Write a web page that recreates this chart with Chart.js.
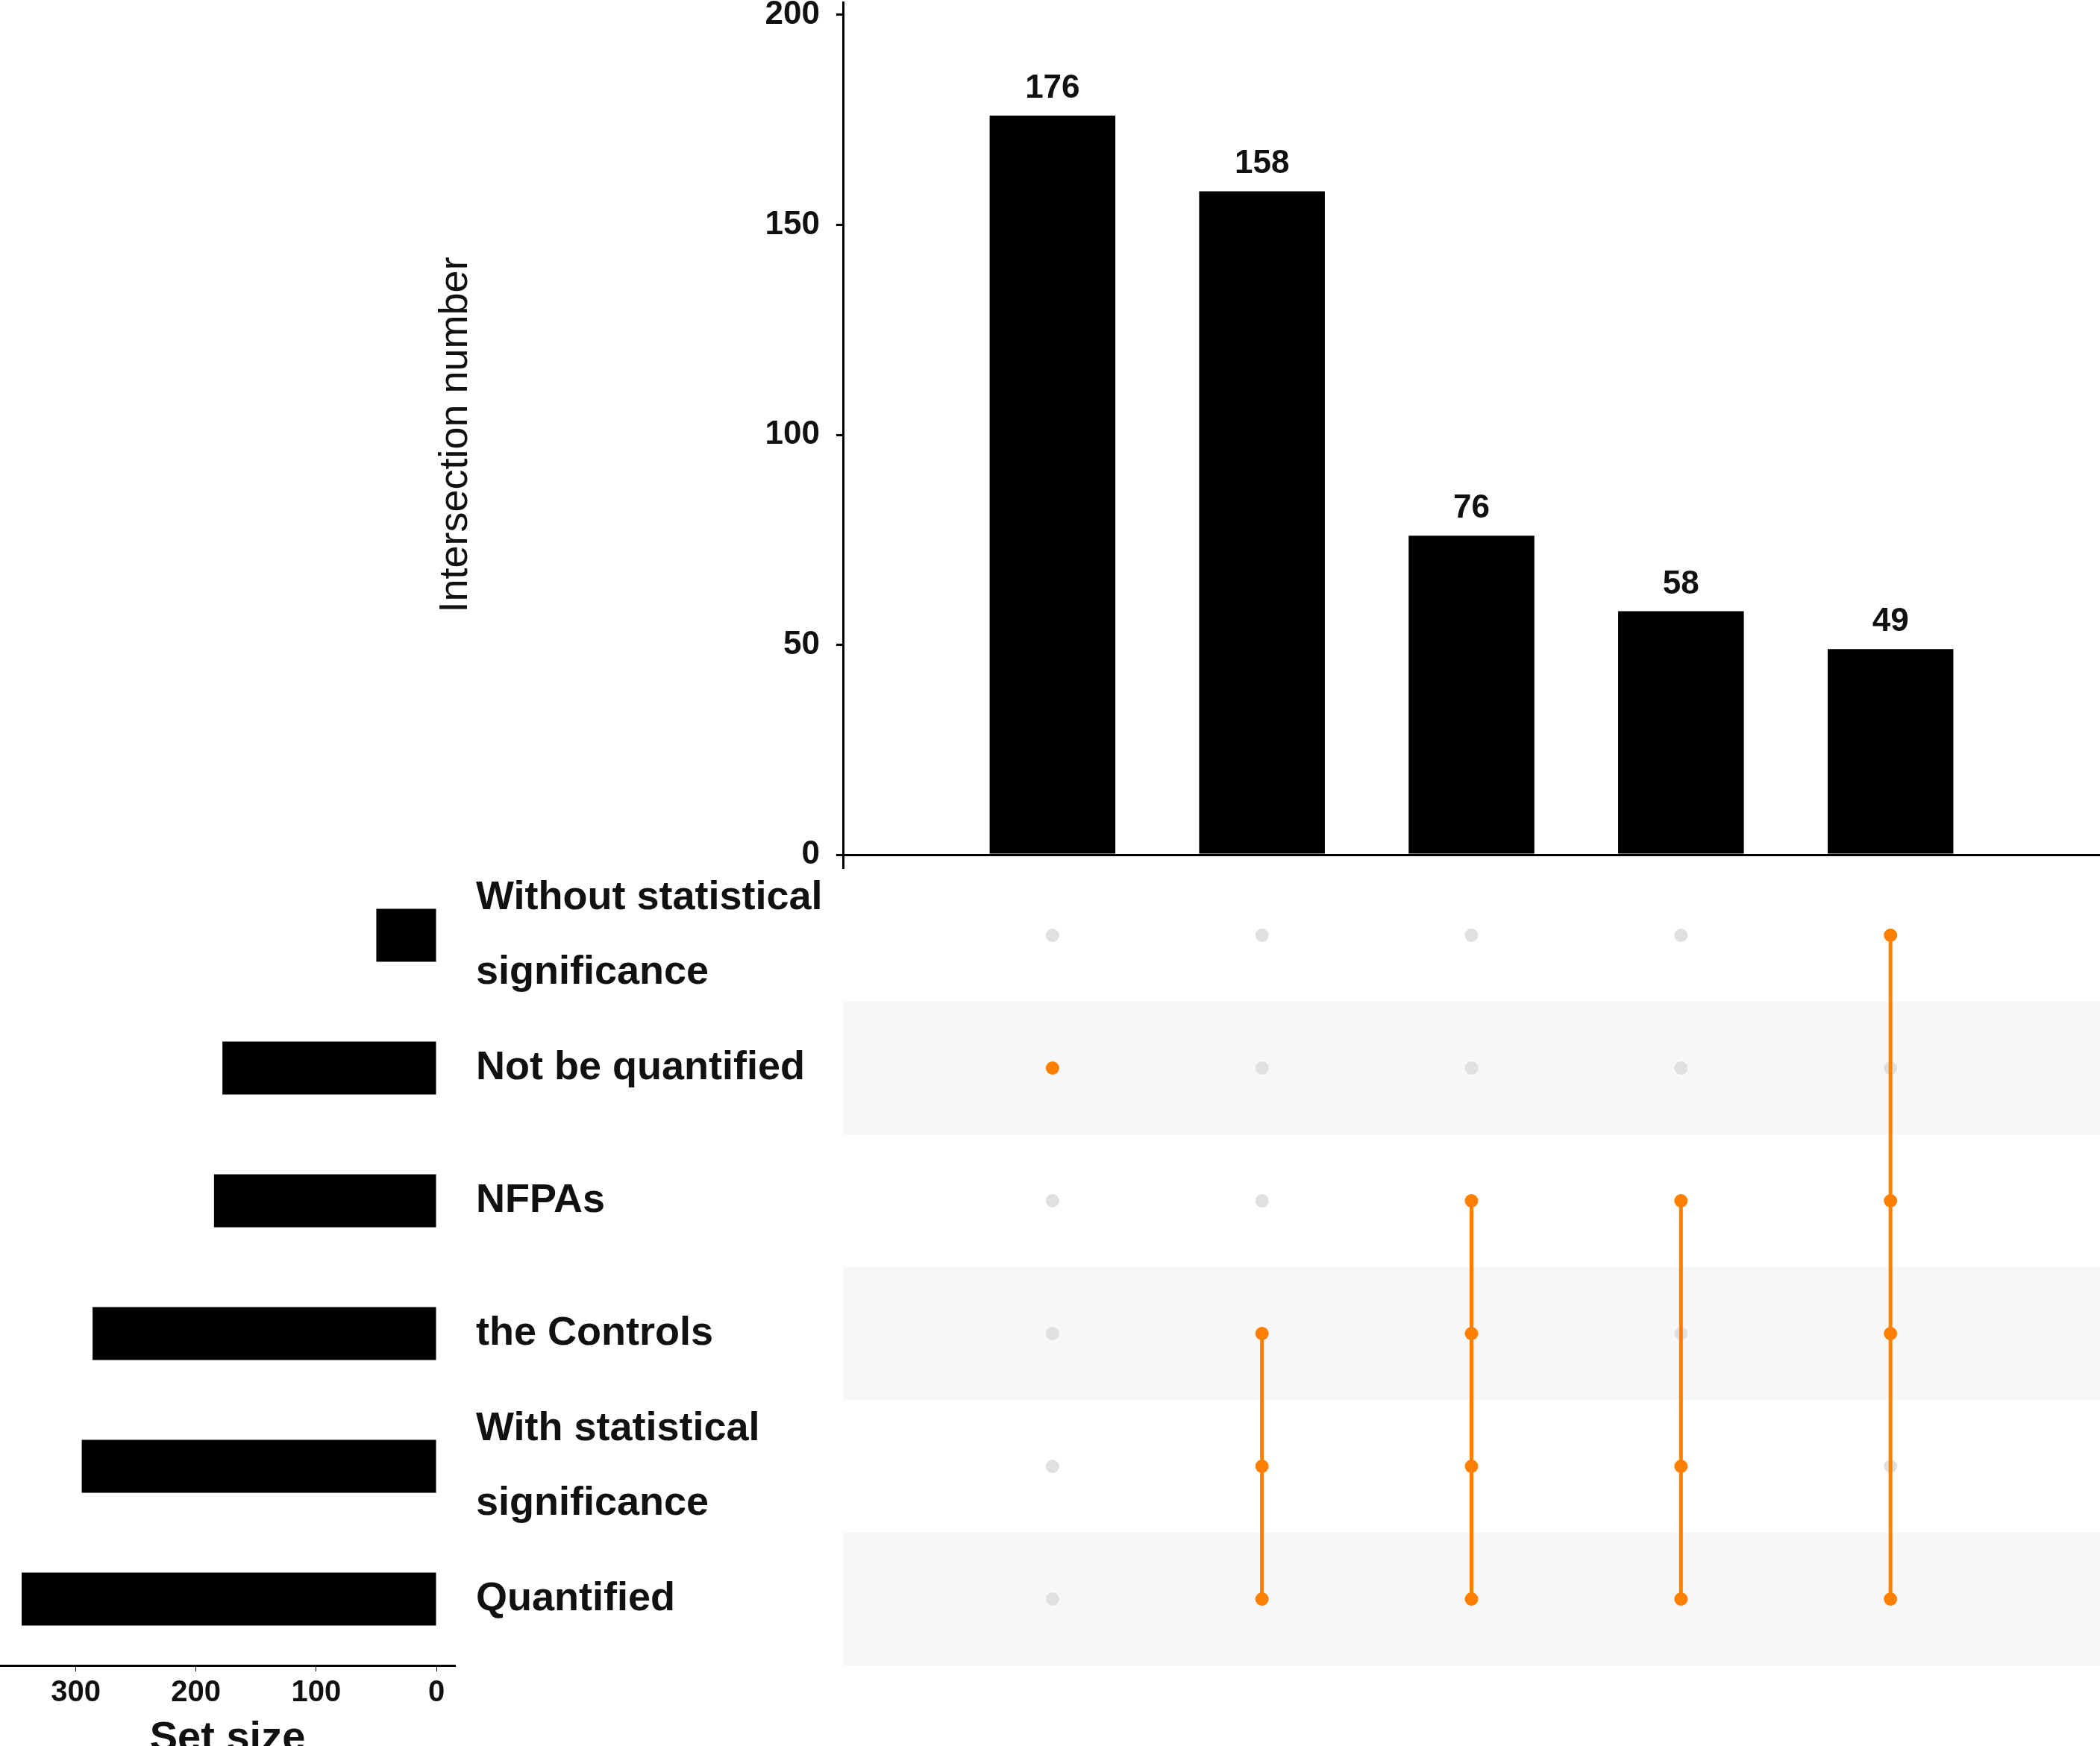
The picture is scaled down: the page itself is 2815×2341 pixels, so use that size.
<!DOCTYPE html>
<html>
<head>
<meta charset="utf-8">
<script src="https://cdn.jsdelivr.net/npm/chart.js@4.4.1/dist/chart.umd.min.js"></script>
<style>
  html, body { margin: 0; padding: 0; background: #fff; }
  #wrap { position: relative; width: 2815px; height: 2341px; }
  canvas { position: absolute; left: 0; top: 0; }
</style>
</head>
<body>
<div id="wrap">
  <canvas id="sizes" width="2815" height="2341"></canvas>
  <canvas id="matrix" width="2815" height="2341"></canvas>
  <canvas id="inter" width="2815" height="2341"></canvas>
</div>
<script>
'use strict';

// sets, top to bottom
const setNames = ['Without statistical significance', 'Not be quantified', 'NFPAs',
    'the Controls', 'With statistical significance', 'Quantified'];
const setLabels = [['Without statistical', 'significance'], 'Not be quantified', 'NFPAs',
    'the Controls', ['With statistical', 'significance'], 'Quantified'];
const setSizes = [50, 178, 185, 286, 295, 345];

// intersections, left to right
const interNames = ['I1', 'I2', 'I3', 'I4', 'I5'];
const interCounts = [176, 158, 76, 58, 49];
const interSets = [
    ['Not be quantified'],
    ['the Controls', 'With statistical significance', 'Quantified'],
    ['NFPAs', 'the Controls', 'With statistical significance', 'Quantified'],
    ['NFPAs', 'With statistical significance', 'Quantified'],
    ['Without statistical significance', 'NFPAs', 'the Controls', 'Quantified'],
];

const interTicks = [0, 50, 100, 150, 200];
const sizeTicks = [0, 100, 200, 300];

const fontFamily = "'Liberation Sans', Arial, Helvetica, sans-serif";
const orange = '#ff8000';
const dotGray = '#e0e0e0';
const bandGray = '#f7f7f7';

Chart.defaults.font.family = fontFamily;
Chart.defaults.color = '#111';

// blank slots at both ends so bars sit at 1..5 on a 0..6 axis
const colLabels = [''].concat(interNames, [' ']);

let barLabels = {
    id: 'barLabels',
    afterDatasetsDraw(chart) {
        let ctx = chart.ctx;
        let meta = chart.getDatasetMeta(0);
        let data = chart.data.datasets[0].data;
        ctx.save();
        ctx.font = 'bold 44px ' + fontFamily;
        ctx.fillStyle = '#111';
        ctx.textAlign = 'center';
        ctx.textBaseline = 'alphabetic';
        meta.data.forEach((bar, i) => {
            if (data[i] == null) return;
            ctx.fillText(String(data[i]), bar.x, bar.y - 24);
        });
        ctx.restore();
    }
};

let bands = {
    id: 'bands',
    beforeDatasetsDraw(chart) {
        let ctx = chart.ctx;
        let area = chart.chartArea;
        let ys = chart.scales.y;
        let half = (ys.getPixelForValue(1) - ys.getPixelForValue(0)) / 2;
        ctx.save();
        ctx.fillStyle = bandGray;
        setNames.forEach((n, i) => {
            if (i % 2 == 1) {
                let y = ys.getPixelForValue(i);
                ctx.fillRect(area.left, y - half, area.right - area.left, 2 * half);
            }
        });
        ctx.restore();
    }
};

// top: intersection sizes
let chart1 = new Chart(document.querySelector('#inter'), {
    type: 'bar',
    data: {
        labels: colLabels,
        datasets: [{
            data: [null].concat(interCounts, [null]),
            backgroundColor: '#000',
            categoryPercentage: 0.6,
            barPercentage: 1,
        }],
    },
    options: {
        responsive: false,
        animation: false,
        devicePixelRatio: 1,
        layout: { autoPadding: false, padding: { left: 0, right: 0, top: 3, bottom: 2341 - 1163 } },
        plugins: { legend: { display: false }, tooltip: { enabled: false } },
        scales: {
            x: { display: false, offset: false },
            y: {
                min: -3,
                max: 203,
                afterBuildTicks: s => { s.ticks = interTicks.map(v => ({ value: v })); },
                afterFit: s => { s.width = 1130; s.paddingTop = 0; s.paddingBottom = 0; },
                border: { display: true, color: '#000', width: 3 },
                grid: {
                    color: c => (c.tick && c.tick.value === 0) ? '#000' : 'rgba(0,0,0,0)',
                    lineWidth: 3,
                    tickColor: '#000',
                    tickLength: 9,
                },
                ticks: { font: { size: 44, weight: 'bold' }, color: '#111', padding: 22 },
                title: {
                    display: true,
                    text: 'Intersection number',
                    font: { size: 54, weight: 'normal' },
                    color: '#111',
                    padding: { top: 579, bottom: 0 },
                },
            },
        },
    },
    plugins: [barLabels],
});

// matrix of set membership
let memberIdx = interSets.map(list => list.map(n => setNames.indexOf(n)).sort((a, b) => a - b));
let matrixSets = memberIdx.map((idx, c) => ({
    data: idx.map(s => ({ x: interNames[c], y: setNames[s] })),
    showLine: true,
    borderColor: orange,
    borderWidth: 5,
    pointRadius: 9,
    pointBackgroundColor: orange,
    pointBorderWidth: 0,
    order: 0,
}));
let absent = [];
memberIdx.forEach((idx, c) => {
    setNames.forEach((n, s) => {
        if (!idx.includes(s)) absent.push({ x: interNames[c], y: n });
    });
});
matrixSets.push({
    data: absent,
    showLine: false,
    pointRadius: 9,
    pointBackgroundColor: dotGray,
    pointBorderWidth: 0,
    order: 1,
});

let chart2 = new Chart(document.querySelector('#matrix'), {
    type: 'line',
    data: { labels: colLabels, datasets: matrixSets },
    options: {
        responsive: false,
        animation: false,
        devicePixelRatio: 1,
        layout: { autoPadding: false, padding: { left: 1130, right: 0, top: 1165, bottom: 2341 - 2233 } },
        plugins: { legend: { display: false }, tooltip: { enabled: false } },
        scales: {
            x: { type: 'category', labels: colLabels, display: false, offset: false },
            y: { type: 'category', labels: setNames, display: false, offset: true },
        },
    },
    plugins: [bands],
});

// left: set sizes
let chart3 = new Chart(document.querySelector('#sizes'), {
    type: 'bar',
    data: {
        labels: setLabels,
        datasets: [{
            data: setSizes,
            backgroundColor: '#000',
            categoryPercentage: 0.4,
            barPercentage: 1,
        }],
    },
    options: {
        indexAxis: 'y',
        responsive: false,
        animation: false,
        devicePixelRatio: 1,
        layout: { autoPadding: false, padding: { left: 0, right: 2815 - 1130, top: 1165, bottom: 0 } },
        plugins: { legend: { display: false }, tooltip: { enabled: false } },
        scales: {
            x: {
                reverse: true,
                min: -15.5,
                max: 363,
                afterBuildTicks: s => { s.ticks = sizeTicks.map(v => ({ value: v })); },
                afterFit: s => { s.height = 108; s.paddingLeft = 0; s.paddingRight = 0; },
                border: { display: true, color: '#000', width: 3 },
                grid: { drawOnChartArea: false, tickColor: '#000', tickLength: 8 },
                ticks: { font: { size: 40, weight: 'bold' }, color: '#111', padding: 5 },
                title: {
                    display: true,
                    text: 'Set size',
                    font: { size: 56, weight: 'bold' },
                    color: '#111',
                    padding: { top: 0, bottom: -24 },
                },
            },
            y: {
                position: 'right',
                afterFit: s => { s.width = 1130 - 610; s.paddingTop = 0; s.paddingBottom = 0; },
                border: { display: false },
                grid: { display: false, drawTicks: false },
                ticks: {
                    autoSkip: false,
                    font: { size: 54, weight: 'bold', lineHeight: 1.85 },
                    color: '#111',
                    padding: 28,
                },
            },
        },
    },
});
</script>
</body>
</html>
